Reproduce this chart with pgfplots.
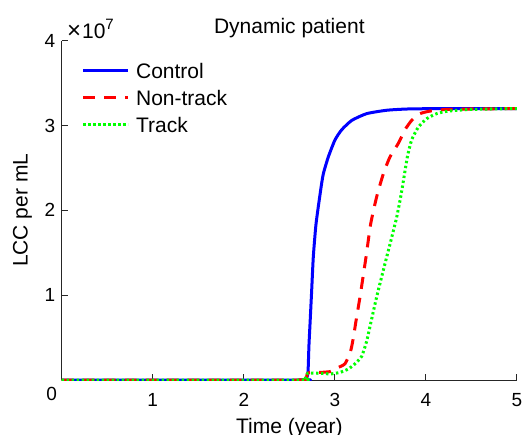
\documentclass[border=0pt]{standalone}
\usepackage{fontspec}
\setmainfont{Liberation Sans}
\usepackage{pgfplots}
\pgfplotsset{compat=1.18}
\begin{document}
\begin{tikzpicture}
\begin{axis}[
  name=ax,
  scale only axis,
  width=227.65pt, height=169.65pt,
  xmin=0, xmax=5, ymin=0, ymax=4,
  axis x line*=bottom, axis y line*=left,
  axis line style={-, black!85, line width=0.5pt},
  xtick={1,2,3,4,5}, ytick={0,1,2,3,4}, yticklabels={,1,2,3,4},
  tick align=inside,
  major tick length=3.2pt,
  tick style={black!85, line width=0.5pt},
  /pgf/number format/assume math mode=true,
  ticklabel style={font=\fontsize{9.5}{11}\selectfont},
  xticklabel style={anchor=base, yshift=-13pt},
  yticklabel style={anchor=east, inner sep=0pt, xshift=-3.1pt},
  title={Dynamic patient},
  every axis title shift=0pt,
  title style={font=\fontsize{10.5}{12}\selectfont, at={(axis description cs:0.5,1)}, anchor=base, yshift=3.7pt, inner sep=0pt},
  xlabel={Time (year)},
  xlabel style={font=\fontsize{10.5}{12}\selectfont, at={(axis description cs:0.5,0)}, anchor=base, yshift=-26.5pt, inner sep=0pt},
  every axis y label/.style={at={(axis description cs:-0.0747,0.5)}, rotate=90, anchor=base, inner sep=0pt, font=\fontsize{10.5}{12}\selectfont},
  ylabel={LCC per mL},
  legend cell align=left,
  legend style={at={(axis description cs:0,1)}, anchor=north west, xshift=10pt, yshift=-10.5pt,
    draw=none, fill=none, inner sep=0pt, outer sep=0pt, row sep=5.2pt,
    font=\fontsize{10.5}{12}\selectfont,
    nodes={inner sep=0pt, text height=8.3pt, text depth=0pt},
    /tikz/every odd column/.append style={column sep=3.2pt}},
  legend image code/.code={\draw[#1] (0pt,0pt) -- (22.5pt,0pt);},
]
\addplot[blue, line width=1.5pt, line join=round, smooth, tension=0.35] coordinates {
(0,0) (2.60,0) (2.67,0.005) (2.69,0.02) (2.70,0.06) (2.706,0.11)
(2.715,0.4) (2.727,0.66) (2.745,1.05) (2.763,1.45) (2.793,1.84) (2.844,2.24)
(2.873,2.43) (2.928,2.63) (3.001,2.83) (3.075,2.95) (3.185,3.06) (3.349,3.14)
(3.569,3.18) (3.8,3.195) (4.2,3.2) (5,3.2)};
\addplot[red, line width=1.5pt, line join=round, smooth, tension=0.35, dash pattern=on 6pt off 4.5pt] coordinates {
(0,0) (2.60,0) (2.67,0.01) (2.69,0.04) (2.70,0.08) (2.75,0.09) (2.85,0.09)
(2.95,0.10) (3.02,0.14) (3.11,0.19) (3.17,0.33) (3.20,0.48) (3.24,0.75)
(3.276,0.98) (3.342,1.45) (3.393,1.84) (3.459,2.16) (3.532,2.43) (3.605,2.63)
(3.697,2.79) (3.77,2.95) (3.843,3.06) (3.935,3.14) (4.045,3.17) (4.228,3.19)
(4.5,3.195) (5,3.2)};
\addplot[green, line width=1.5pt, line join=round, smooth, tension=0.35, dash pattern=on 1.2pt off 1.3pt] coordinates {
(0,0) (2.60,0) (2.67,0.01) (2.69,0.04) (2.70,0.08) (2.80,0.08) (2.90,0.075)
(2.947,0.07) (3.057,0.09) (3.148,0.13) (3.22,0.19) (3.295,0.28) (3.35,0.46)
(3.375,0.58) (3.459,0.98) (3.55,1.37) (3.624,1.68) (3.679,1.92) (3.723,2.16)
(3.759,2.39) (3.796,2.63) (3.843,2.83) (3.916,2.98) (4.008,3.08) (4.118,3.14)
(4.245,3.17) (4.5,3.19) (5,3.2)};
\legend{Control, Non-track, Track}
\end{axis}
\node[anchor=base west, inner sep=0pt, font=\fontsize{10.5}{12}\selectfont] at ([xshift=2.5pt,yshift=1.2pt]ax.north west) {{\fontsize{12}{13}\selectfont ×}\kern0.5pt10\raisebox{4.6pt}{\fontsize{7.5}{8}\selectfont 7}};
\node[anchor=base east, inner sep=0pt, font=\fontsize{9.5}{11}\selectfont] at ([xshift=-2.2pt,yshift=-10.35pt]ax.south west) {0};
\pgfresetboundingbox
\path (ax.south west) ++(-30.85pt,-27pt) rectangle ++(262.5pt,217pt);
\end{tikzpicture}
\end{document}
